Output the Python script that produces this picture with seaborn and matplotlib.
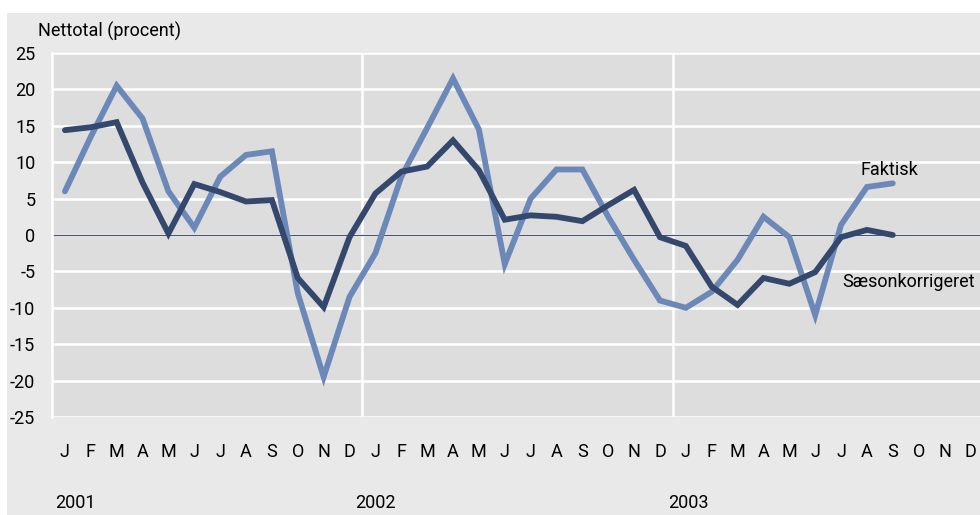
import matplotlib
matplotlib.use('Agg')
import matplotlib.pyplot as plt
import matplotlib.transforms as mtransforms
import pandas as pd
import seaborn as sns
from matplotlib.patches import Rectangle

# Data (Jan 2001 - Sep 2003)
month_letters = ['J', 'F', 'M', 'A', 'M', 'J', 'J', 'A', 'S', 'O', 'N', 'D'] * 3
years = ['2001', '2002', '2003']
year_pos = [-0.38, 11.23, 23.3]
faktisk = [6, 13.5, 20.5, 16, 6, 1, 8, 11, 11.5, -8, -19.5, -8.5,
           -2.5, 8, 14.7, 21.5, 14.5, -4, 5, 9, 9, 2.5, -3.4, -9,
           -10, -7.8, -3.4, 2.5, -0.3, -11, 1.4, 6.6, 7.1]
saeson = [14.4, 14.8, 15.5, 7.2, 0.2, 7, 5.9, 4.6, 4.8, -5.9, -9.9, -0.3,
          5.7, 8.7, 9.4, 13, 8.9, 2.1, 2.7, 2.5, 1.9, 4.1, 6.2, -0.3,
          -1.5, -7.1, -9.6, -5.9, -6.7, -5.1, -0.3, 0.7, 0]
yticks = [-25, -20, -15, -10, -5, 0, 5, 10, 15, 20, 25]

df = pd.DataFrame({
    'month': list(range(len(faktisk))) * 2,
    'value': faktisk + saeson,
    'series': ['Faktisk'] * len(faktisk) + ['Sæsonkorrigeret'] * len(saeson),
})

plt.rcParams['font.family'] = ['Roboto', 'DejaVu Sans']

light = '#6b88b9'
dark = '#34486d'
bg_outer = '#e9e9e9'
bg_plot = '#dddddd'

fig = plt.figure(figsize=(9.8, 5.15), dpi=100, facecolor='white')
fig.patches.append(Rectangle((7 / 980, 0), 1, (515 - 13) / 515, transform=fig.transFigure,
                             facecolor=bg_outer, edgecolor='none', zorder=-10))

ax = fig.add_axes([52 / 980, 1 - 417 / 515, 1 - 52 / 980, (417 - 53) / 515])
ax.set_facecolor(bg_plot)

sns.lineplot(data=df, x='month', y='value', hue='series', ax=ax,
             palette={'Faktisk': light, 'Sæsonkorrigeret': dark},
             linewidth=4.2, legend=False, sort=False)
for line in ax.lines:
    line.set_solid_capstyle('round')
    line.set_solid_joinstyle('miter')
    line.set_zorder(3)

ax.set_xlim(-0.5, 35.37)
ax.set_ylim(-25, 25)

# grid
for v in yticks:
    ax.axhline(v, color='white', lw=1.8, zorder=1)
for b in [11.5, 23.5]:
    ax.axvline(b, color='white', lw=1.8, zorder=1)
ax.axhline(0, color='#4a5470', lw=0.9, zorder=2)

for side in ['top', 'right', 'bottom']:
    ax.spines[side].set_visible(False)
ax.spines['left'].set_color('white')
ax.spines['left'].set_linewidth(1.8)

ax.set_xticks([])
ax.set_yticks(yticks)
ax.set_yticklabels([str(v) for v in yticks], fontsize=13)
ax.tick_params(axis='y', length=0, pad=12)
ax.set_xlabel('')
ax.set_ylabel('')

# month and year labels under the plot
trans = mtransforms.blended_transform_factory(ax.transData, ax.transAxes)
for i, m in enumerate(month_letters):
    ax.text(i, -0.096, m, transform=trans, ha='center', va='center', fontsize=13)
for p, y in zip(year_pos, years):
    ax.text(p, -0.236, y, transform=trans, ha='left', va='center', fontsize=13)

# series labels
ax.text(31.85, 8.9, 'Faktisk', ha='center', va='center', fontsize=13)
ax.text(32.6, -6.5, 'Sæsonkorrigeret', ha='center', va='center', fontsize=13)

fig.text(38 / 980, 1 - 31 / 515, 'Nettotal (procent)', ha='left', va='center', fontsize=13)

fig.savefig('out.png', dpi=100, facecolor=fig.get_facecolor())
